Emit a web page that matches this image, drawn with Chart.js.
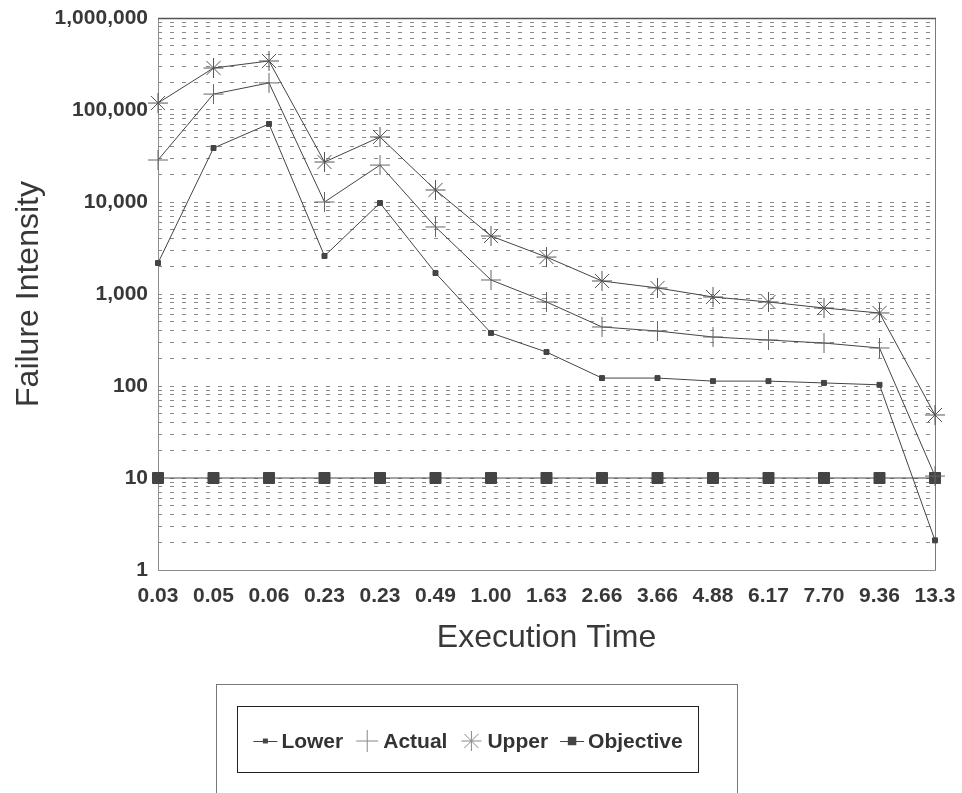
<!DOCTYPE html>
<html>
<head>
<meta charset="utf-8">
<script src="https://cdn.jsdelivr.net/npm/chart.js@4.4.1/dist/chart.umd.min.js"></script>
<style>
  html, body { margin: 0; padding: 0; background: #fff; }
</style>
</head>
<body>
<canvas id="chart" width="962" height="793"></canvas>
<script>
// Data
const executionTimes = ['0.03', '0.05', '0.06', '0.23', '0.23', '0.49', '1.00', '1.63', '2.66', '3.66', '4.88', '6.17', '7.70', '9.36', '13.3']
const lowerValues = [2170, 38600, 70500, 2590, 9750, 1690, 377, 234, 122, 122, 113, 113, 108, 103, 2.1]
const actualValues = [28600, 149000, 197000, 10000, 25200, 5350, 1420, 819, 438, 396, 341, 316, 293, 259, 10.5]
const upperValues = [119000, 286000, 341000, 27200, 50900, 13500, 4270, 2520, 1385, 1163, 928, 819, 704, 622, 48.4]
const objectiveValues = [10, 10, 10, 10, 10, 10, 10, 10, 10, 10, 10, 10, 10, 10, 10]

// Labelled decades on the y axis
const yMajorValues = [1, 10, 100, 1000, 10000, 100000, 1000000]
const yMajorLabels = ['1', '10', '100', '1,000', '10,000', '100,000', '1,000,000']

const FONT = '"Liberation Sans", Arial, Helvetica, sans-serif'
const INK = '#383838'
const LINE = '#444'

// Grid lines at 1..9 of every decade (no 1.5 steps)
const yGridValues = []
for (let d = 0; d < yMajorValues.length - 1; d++) {
  for (let m = 1; m < 10; m++) yGridValues.push(yMajorValues[d] * m)
}
yGridValues.push(yMajorValues[yMajorValues.length - 1])

const legendItems = [
  { text: 'Lower', style: 'rect', radius: 3.5, line: true },
  { text: 'Actual', style: 'cross', radius: 11, line: false },
  { text: 'Upper', style: 'star', radius: 10, line: false },
  { text: 'Objective', style: 'rect', radius: 6, line: true }
]

// Draw the plot frame under the data
const framePlugin = {
  id: 'frame',
  beforeDatasetsDraw(chart) {
    const { ctx, chartArea: a } = chart
    const l = Math.round(a.left) + 0.5
    const r = Math.round(a.right) + 0.5
    const t = Math.round(a.top) + 0.5
    const b = Math.round(a.bottom) + 0.5
    ctx.save()
    ctx.lineWidth = 1
    ctx.strokeStyle = '#8c8c8c'
    ctx.beginPath()
    ctx.moveTo(l, t)
    ctx.lineTo(l, b)
    ctx.lineTo(r, b)
    ctx.stroke()
    ctx.strokeStyle = '#7a7a7a'
    ctx.beginPath()
    ctx.moveTo(r, t)
    ctx.lineTo(r, b)
    ctx.stroke()
    ctx.strokeStyle = '#555'
    ctx.lineWidth = 1.5
    ctx.beginPath()
    ctx.moveTo(l - 0.5, t)
    ctx.lineTo(r + 0.5, t)
    ctx.stroke()
    ctx.restore()
  }
}

// Draw one legend marker
function drawMarker(ctx, style, radius, x, y) {
  ctx.beginPath()
  if (style === 'rect') {
    const s = radius * Math.SQRT1_2
    ctx.fillRect(x - s, y - s, 2 * s, 2 * s)
    return
  }
  ctx.moveTo(x - radius, y)
  ctx.lineTo(x + radius, y)
  ctx.moveTo(x, y - radius)
  ctx.lineTo(x, y + radius)
  if (style === 'star') {
    const d = radius * Math.SQRT1_2
    ctx.moveTo(x - d, y - d)
    ctx.lineTo(x + d, y + d)
    ctx.moveTo(x - d, y + d)
    ctx.lineTo(x + d, y - d)
  }
  ctx.stroke()
}

// Boxed legend below the axis title
const legendPlugin = {
  id: 'boxLegend',
  afterDraw(chart) {
    const ctx = chart.ctx
    ctx.save()
    ctx.lineWidth = 1
    ctx.strokeStyle = '#777'
    ctx.strokeRect(216.5, 684.5, 521, 140)
    ctx.strokeStyle = '#222'
    ctx.strokeRect(237.5, 706.5, 461, 66)

    ctx.font = 'bold 21px ' + FONT
    ctx.textBaseline = 'middle'
    const markerW = 24
    const gap = 4
    const itemGap = 12
    let total = 0
    legendItems.forEach((it, i) => {
      total += markerW + gap + ctx.measureText(it.text).width
      if (i < legendItems.length - 1) total += itemGap
    })
    let x = 468 - total / 2
    const y = 741
    legendItems.forEach(it => {
      const cx = x + markerW / 2
      ctx.fillStyle = '#444'
      ctx.strokeStyle = it.line ? '#444' : '#888'
      ctx.lineWidth = 1
      if (it.line) {
        ctx.beginPath()
        ctx.moveTo(x, y + 0.5)
        ctx.lineTo(x + markerW, y + 0.5)
        ctx.stroke()
      }
      drawMarker(ctx, it.style, it.radius, cx, y)
      x += markerW + gap
      ctx.fillStyle = '#333'
      ctx.fillText(it.text, x, y + 1)
      x += ctx.measureText(it.text).width + itemGap
    })
    ctx.restore()
  }
}

function seriesStyle(label, values, style, radius, color) {
  return {
    label: label,
    data: values,
    borderColor: LINE,
    borderWidth: 1,
    tension: 0,
    pointStyle: style,
    pointRadius: radius,
    pointHoverRadius: radius,
    pointBackgroundColor: LINE,
    pointBorderColor: color,
    pointBorderWidth: 1,
    clip: false
  }
}

new Chart(document.getElementById('chart'), {
  type: 'line',
  data: {
    labels: executionTimes,
    datasets: [
      seriesStyle('Lower', lowerValues, 'rect', 3.5, LINE),
      seriesStyle('Actual', actualValues, 'cross', 10, '#666'),
      seriesStyle('Upper', upperValues, 'star', 10, '#555'),
      seriesStyle('Objective', objectiveValues, 'rect', 7.8, LINE)
    ]
  },
  options: {
    responsive: false,
    animation: false,
    devicePixelRatio: 1,
    layout: { padding: { top: 18, right: 27, bottom: 123, left: 0 } },
    plugins: {
      legend: { display: false },
      tooltip: { enabled: false }
    },
    scales: {
      x: {
        type: 'category',
        offset: false,
        grid: { display: false, drawTicks: false },
        border: { display: false },
        ticks: {
          autoSkip: false,
          maxRotation: 0,
          padding: 14,
          color: INK,
          font: { family: FONT, size: 21, weight: 'bold' }
        },
        title: {
          display: true,
          text: 'Execution Time',
          color: INK,
          padding: { top: 0, bottom: 13 },
          font: { family: FONT, size: 32 }
        },
        afterFit(scale) {
          scale.height = 100
          // let the layout padding alone decide the edges
          scale.paddingLeft = 0
          scale.paddingRight = 0
        }
      },
      y: {
        type: 'logarithmic',
        min: 1,
        max: 1000000,
        afterBuildTicks(scale) {
          scale.ticks = yGridValues.map(v => ({ value: v, major: yMajorValues.includes(v) }))
        },
        grid: {
          drawTicks: false,
          color: '#8a8a8a',
          lineWidth: 1
        },
        border: { display: false, dash: [4, 8] },
        ticks: {
          autoSkip: false,
          padding: 10,
          color: INK,
          font: { family: FONT, size: 21, weight: 'bold' },
          callback(value) {
            const i = yMajorValues.indexOf(value)
            return i >= 0 ? yMajorLabels[i] : ''
          }
        },
        title: {
          display: true,
          text: 'Failure Intensity',
          color: INK,
          padding: { top: 10, bottom: 0 },
          font: { family: FONT, size: 32 }
        },
        afterFit(scale) {
          scale.width = 158
          scale.paddingTop = 0
          scale.paddingBottom = 0
        }
      }
    }
  },
  plugins: [framePlugin, legendPlugin]
})
</script>
</body>
</html>
